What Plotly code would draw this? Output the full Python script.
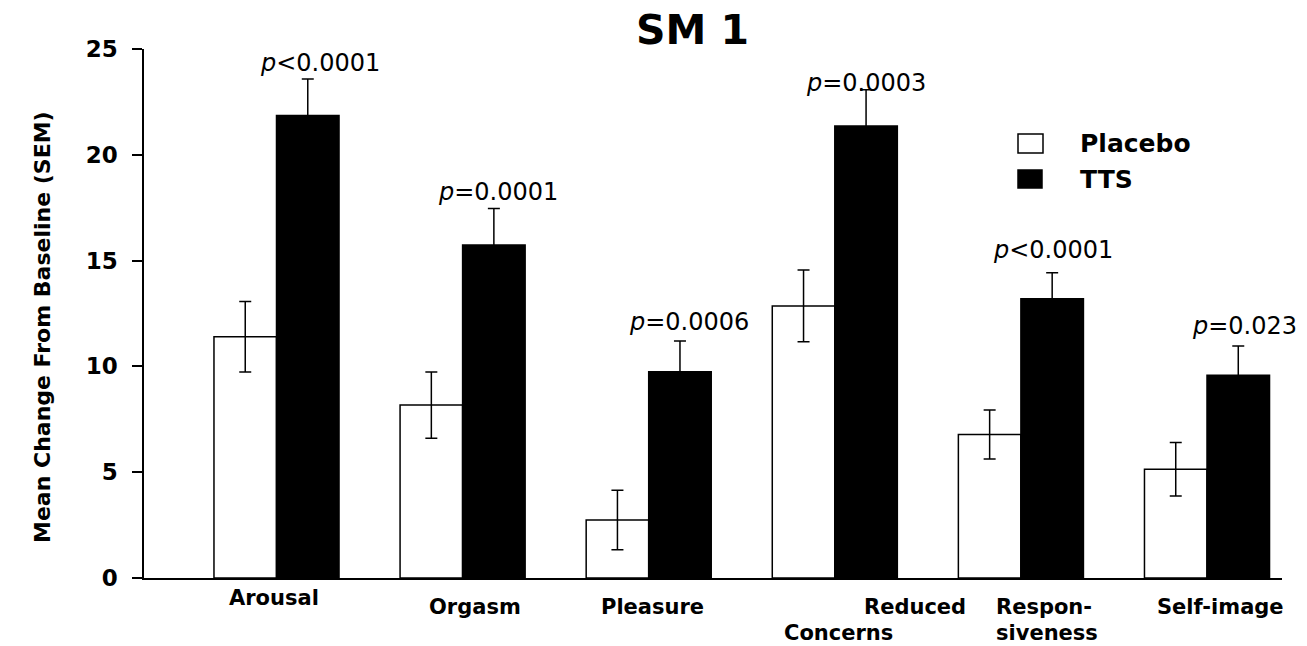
import plotly.graph_objects as go

# Domains and group means (mean change from baseline) with SEM
categories = ["Arousal", "Orgasm", "Pleasure", "Reduced Concerns", "Responsiveness", "Self-image"]
placebo_mean = [11.40, 8.17, 2.74, 12.86, 6.78, 5.14]
placebo_sem = [1.67, 1.57, 1.41, 1.70, 1.16, 1.26]
tts_mean = [21.86, 15.74, 9.75, 21.36, 13.20, 9.58]
tts_sem = [1.72, 1.72, 1.45, 1.71, 1.23, 1.38]
p_labels = ["<i>p</i><0.0001", "<i>p</i>=0.0001", "<i>p</i>=0.0006",
            "<i>p</i>=0.0003", "<i>p</i><0.0001", "<i>p</i>=0.023"]
y_ticks = [0, 5, 10, 15, 20, 25]

# Placement of the p-value labels (x in group units, y in axis units)
p_label_x = [0.234, 1.190, 2.217, 3.168, 4.172, 5.204]
p_label_y = [24.32, 18.26, 12.11, 23.41, 15.48, 11.92]

FONT = "DejaVu Sans"
W, H = 1307, 646
ML, MR, MT, MB = 144, 25, 49, 68
PW, PH = W - ML - MR, H - MT - MB

x_pos = list(range(len(categories)))


def px_x(p):
    return (p - ML) / PW


def px_y(p):
    return (H - MB - p) / PH


fig = go.Figure()
fig.add_trace(go.Bar(
    name="Placebo", x=x_pos, y=placebo_mean,
    marker=dict(color="white", line=dict(color="black", width=1.5)),
    error_y=dict(type="data", array=placebo_sem, visible=True,
                 color="black", thickness=1.5, width=6),
    showlegend=False,
))
fig.add_trace(go.Bar(
    name="TTS", x=x_pos, y=tts_mean,
    marker=dict(color="black", line=dict(color="black", width=1.5)),
    error_y=dict(type="data", array=tts_sem, visible=True,
                 color="black", thickness=1.5, width=6),
    showlegend=False,
))

annotations = []

# p-value labels above the TTS bars
for px, py, txt in zip(p_label_x, p_label_y, p_labels):
    annotations.append(dict(x=px, y=py, xref="x", yref="y", text=txt,
                            showarrow=False, xanchor="center", yanchor="middle",
                            font=dict(family=FONT, size=24, color="black")))

# category labels under the axis (x in group units, y in pixels from top)
cat_font = dict(family=FONT, size=21, color="black", weight="bold")
cat_labels = [
    (-0.013, 598, "Arousal", "center"),
    (1.064, 607, "Orgasm", "center"),
    (2.023, 607, "Pleasure", "center"),
    (3.716, 607, "Reduced", "right"),
    (3.323, 633, "Concerns", "right"),
    (3.855, 607, "Respon-", "left"),
    (3.855, 633, "siveness", "left"),
    (5.070, 607, "Self-image", "center"),
]
for cx, cy, txt, anchor in cat_labels:
    annotations.append(dict(x=cx, y=px_y(cy), xref="x", yref="paper", text=txt,
                            showarrow=False, xanchor=anchor, yanchor="middle",
                            font=cat_font))

# y-axis title
annotations.append(dict(
    x=px_x(42), y=px_y(327), xref="paper", yref="paper",
    text="Mean Change From Baseline (SEM)", textangle=-90, showarrow=False,
    xanchor="center", yanchor="middle",
    font=dict(family=FONT, size=22, color="black", weight="bold")))

# legend: key squares and labels
shapes = [
    dict(type="rect", xref="paper", yref="paper",
         x0=px_x(1018), x1=px_x(1043), y0=px_y(153), y1=px_y(134),
         fillcolor="white", line=dict(color="black", width=1.5)),
    dict(type="rect", xref="paper", yref="paper",
         x0=px_x(1018), x1=px_x(1042), y0=px_y(188), y1=px_y(170),
         fillcolor="black", line=dict(color="black", width=1.5)),
]
for label, cy in (("Placebo", 143), ("TTS", 179)):
    annotations.append(dict(x=px_x(1078), y=px_y(cy), xref="paper", yref="paper",
                            text=label, showarrow=False, xanchor="left", yanchor="middle",
                            font=dict(family=FONT, size=25, color="black", weight="bold")))

fig.update_layout(
    width=W, height=H,
    margin=dict(l=ML, r=MR, t=MT, b=MB, autoexpand=False),
    paper_bgcolor="white", plot_bgcolor="white",
    barmode="group", bargap=0.328, bargroupgap=0,
    title=dict(text="<b>SM 1</b>", x=692.5 / W, xanchor="center",
               y=1 - 30 / H, yanchor="middle",
               font=dict(family=FONT, size=41, color="black")),
    xaxis=dict(range=[-0.712, 5.403], showticklabels=False, ticks="",
               showline=True, linecolor="black", linewidth=1.5,
               showgrid=False, zeroline=False, fixedrange=True),
    yaxis=dict(range=[0, 25], tickvals=y_ticks, ticks="outside", ticklen=10,
               tickwidth=1.5, tickcolor="black", showline=True, linecolor="black",
               linewidth=1.5, showgrid=False, zeroline=False,
               tickfont=dict(family=FONT, size=23, color="black", weight="bold"),
               ticklabelstandoff=10),
    annotations=annotations,
    shapes=shapes,
    showlegend=False,
)

fig.write_html("out.html")
